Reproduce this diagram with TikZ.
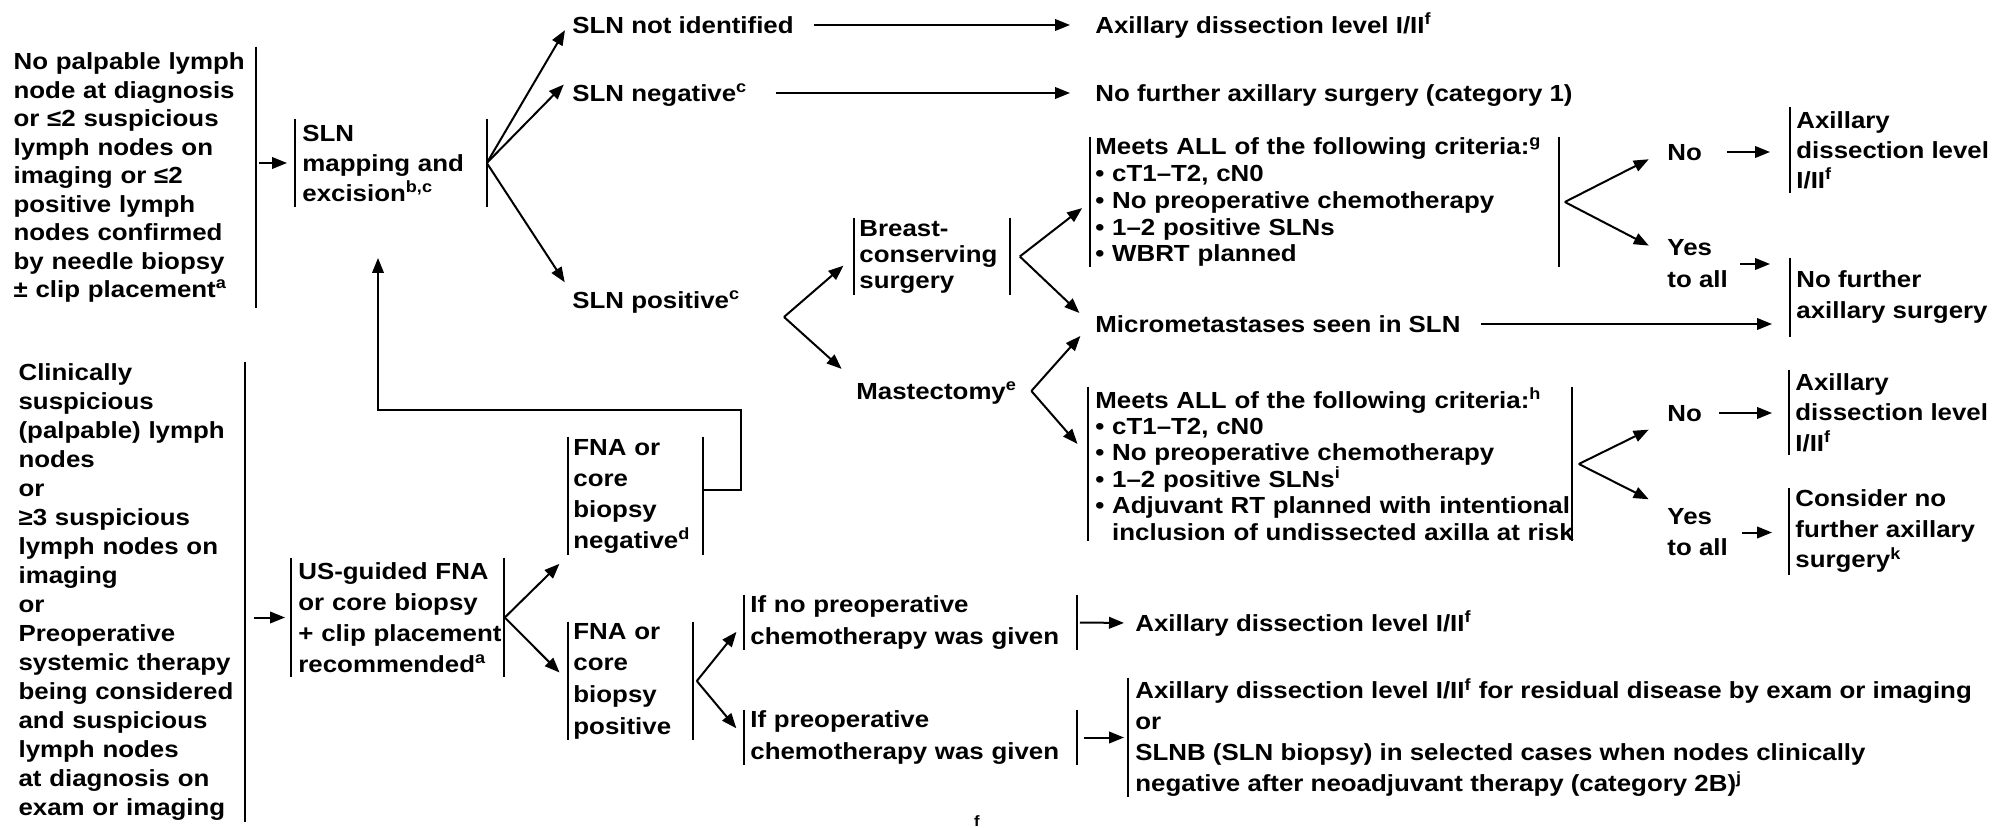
\documentclass[tikz,border=0pt]{standalone}
\usepackage{fontspec}
\setmainfont{Liberation Sans}[FakeStretch=1.11]
\usetikzlibrary{arrows.meta}
\usetikzlibrary{calc}

\tikzset{
  lh/.style={font=\bfseries\fontsize{11.65pt}{#1}\selectfont},
  blk/.style={align=left, anchor=west, inner ysep=0pt},
  lbl/.style={anchor=west, inner xsep=2pt, inner ysep=2pt, text height=8.34pt, text depth=0pt, lh=14pt},
  bar/.style={line width=1pt},
  conn/.style={draw, line width=1pt, ->, >={Triangle[length=7.5pt,width=5.8pt]}},
}

\begin{document}
\begin{tikzpicture}[x=0.5pt,y=-0.5pt]

  \useasboundingbox[fill=white] (0,0) rectangle (2001,828);

  % entry blocks
  \node [blk,lh=14.25pt,anchor=east,inner xsep=0pt,text width=121pt,minimum height=130.5pt] (nopalp) at (256,177.5)
    {No palpable lymph\\node at diagnosis\\or ≤2 suspicious\\lymph nodes on\\imaging or ≤2\\positive lymph\\nodes confirmed\\by needle biopsy\\± clip placement\textsuperscript{a}};
  \node [blk,lh=14.5pt,anchor=east,inner xsep=0pt,text width=113pt,minimum height=230pt] (nocl) at (245,592)
    {Clinically\\suspicious\\(palpable) lymph\\nodes\\or\\≥3 suspicious\\lymph nodes on\\imaging\\or\\Preoperative\\systemic therapy\\being considered\\and suspicious\\lymph nodes\\at diagnosis on\\exam or imaging};

  % SLN branch
  \node [blk,lh=15pt,inner xsep=3.5pt,text width=88.5pt,minimum height=44pt] (slnmap) at (295,163)
    {SLN\\mapping and\\excision\textsuperscript{b,c}};
  \node [lbl] (slnni)  at (568,25)  {SLN not identified};
  \node [lbl] (slnneg) at (568,93)  {SLN negative\textsuperscript{c}};
  \node [lbl] (slnpos) at (568,300) {SLN positive\textsuperscript{c}};
  \node [lbl] (axd1)   at (1091,25) {Axillary dissection level I/II\textsuperscript{f}};
  \node [lbl] (nofur1) at (1091,93) {No further axillary surgery (category 1)};
  \coordinate (posfork) at (784,317);

  \node [blk,lh=13pt,inner xsep=2.5pt,text width=72.5pt,minimum height=38.5pt] (bcs) at (854,256.5)
    {Breast-\\conserving\\surgery};
  \node [lbl] (mast)  at (852,391)  {Mastectomy\textsuperscript{e}};
  \node [lbl] (micro) at (1091,324) {Micrometastases seen in SLN};

  \node [blk,lh=13.35pt,inner xsep=2.5pt,text width=229pt,minimum height=65pt] (meetsg) at (1090,202)
    {Meets ALL of the following criteria:\textsuperscript{g}\\• cT1–T2, cN0\\• No preoperative chemotherapy\\• 1–2 positive SLNs\\• WBRT planned};
  \node [blk,lh=13.2pt,inner xsep=3.5pt,text width=234.5pt,minimum height=77pt] (meetsh) at (1088,464)
    {Meets ALL of the following criteria:\textsuperscript{h}\\• cT1–T2, cN0\\• No preoperative chemotherapy\\• 1–2 positive SLNs\textsuperscript{i}\\\mbox{• Adjuvant RT planned with intentional}\\\mbox{\phantom{• }inclusion of undissected axilla at risk}};

  \node [lbl] (no1) at (1663,152) {No};
  \node [blk,lh=16pt,inner xsep=2pt] (yes1) at (1663,264) {Yes\\to all};
  \node [lbl] (no2) at (1663,413) {No};
  \node [blk,lh=15.5pt,inner xsep=2pt] (yes2) at (1663,532.5) {Yes\\to all};

  \node [blk,lh=15pt,inner xsep=3pt,minimum height=43pt] (axd2) at (1790,150)
    {Axillary\\dissection level\\I/II\textsuperscript{f}};
  \node [blk,lh=15.5pt,inner xsep=3pt,minimum height=39.5pt] (nofur2) at (1790,297.5)
    {No further\\axillary surgery};
  \node [blk,lh=15.25pt,inner xsep=3pt,minimum height=42.5pt] (axd4) at (1789,412.5)
    {Axillary\\dissection level\\I/II\textsuperscript{f}};
  \node [blk,lh=15.25pt,inner xsep=3pt,minimum height=43.5pt] (consider) at (1789,531.5)
    {Consider no\\further axillary\\surgery\textsuperscript{k}};

  % biopsy branch
  \node [blk,lh=15.4pt,inner xsep=3.5pt,text width=99pt,minimum height=59.5pt] (usg) at (291,617.5)
    {US-guided FNA\\or core biopsy\\\mbox{+ clip placement}\\recommended\textsuperscript{a}};
  \node [blk,lh=15.5pt,inner xsep=2.5pt,text width=62pt,minimum height=59pt] (fnaneg) at (568,496)
    {FNA or\\core\\biopsy\\negative\textsuperscript{d}};
  \node [blk,lh=15.8pt,inner xsep=2.5pt,text width=57pt,minimum height=59pt] (fnapos) at (568,681)
    {FNA or\\core\\biopsy\\positive};
  \node [blk,lh=16pt,inner xsep=3pt,text width=160pt,minimum height=27.5pt] (ifno) at (744,622.5)
    {If no preoperative\\chemotherapy was given};
  \node [blk,lh=16pt,inner xsep=3pt,text width=160pt,minimum height=27.5pt] (ifpre) at (744,737.5)
    {If preoperative\\chemotherapy was given};
  \node [lbl] (axd3) at (1131,623) {Axillary dissection level I/II\textsuperscript{f}};
  \node [blk,lh=15.5pt,inner xsep=3.5pt,minimum height=59.5pt] (resid) at (1128,737.5)
    {Axillary dissection level I/II\textsuperscript{f} for residual disease by exam or imaging\\or\\SLNB (SLN biopsy) in selected cases when nodes clinically\\negative after neoadjuvant therapy (category 2B)\textsuperscript{j}};
  \node [anchor=north,inner sep=0pt,font=\bfseries\fontsize{7.5pt}{9pt}\selectfont] (strayf) at (977,815) {f};

  \coordinate (loopcorner) at (378,410);
  \coordinate (loopend) at (378,258);

  % bars
  \path [draw,bar]
    (nopalp.north east) -- (nopalp.south east)
    (nocl.north east)   -- (nocl.south east)
    (slnmap.north west) -- (slnmap.south west) (slnmap.north east) -- (slnmap.south east)
    (bcs.north west)    -- (bcs.south west)    (bcs.north east)    -- (bcs.south east)
    (meetsg.north west) -- (meetsg.south west) (meetsg.north east) -- (meetsg.south east)
    (meetsh.north west) -- (meetsh.south west) (meetsh.north east) -- (meetsh.south east)
    (usg.north west)    -- (usg.south west)    (usg.north east)    -- (usg.south east)
    (fnaneg.north west) -- (fnaneg.south west) (fnaneg.north east) -- (fnaneg.south east)
    (fnapos.north west) -- (fnapos.south west) (fnapos.north east) -- (fnapos.south east)
    (ifno.north west)   -- (ifno.south west)   (ifno.north east)   -- (ifno.south east)
    (ifpre.north west)  -- (ifpre.south west)  (ifpre.north east)  -- (ifpre.south east)
    (resid.north west)  -- (resid.south west)
    (axd2.north west)   -- (axd2.south west)
    (nofur2.north west) -- (nofur2.south west)
    (axd4.north west)   -- (axd4.south west)
    (consider.north west) -- (consider.south west);

  % connectors
  \path [every edge/.style={conn}]
    (nopalp.east |- slnmap.west) edge [shorten <=1.5pt,shorten >=4pt] (slnmap.west)
    (nocl.east |- usg.west)      edge [shorten <=4.5pt,shorten >=3pt] (usg.west)
    (slnmap.east) edge [shorten >=3pt] (slnni.west)
    (slnmap.east) edge [shorten >=3pt] (slnneg.north west)
    (slnmap.east) edge [shorten >=3pt] (slnpos.north west)
    (slnni.east)  edge [shorten <=8pt,shorten >=10.5pt] (axd1.west)
    (slnneg.east) edge [shorten <=12pt,shorten >=10.5pt] (nofur1.west)
    (posfork) edge [shorten >=7pt] (bcs.west)
    (posfork) edge [shorten >=7pt] (mast.north west)
    ([xshift=5pt]bcs.east)  edge [shorten >=5pt] (meetsg.west)
    ([xshift=5pt]bcs.east)  edge [shorten >=8pt] (micro.west)
    ([xshift=5pt]mast.east) edge [shorten >=8pt] (micro.west)
    ([xshift=5pt]mast.east) edge [shorten >=8pt] ([yshift=4pt]meetsh.west)
    (micro.east) edge [shorten <=8pt,shorten >=9pt] (micro.east -| nofur2.west)
    ([xshift=3pt]meetsg.east) edge [shorten >=8pt] (no1.west)
    ([xshift=3pt]meetsg.east) edge [shorten >=8pt] ([yshift=5.5pt]yes1.west)
    ([xshift=3.5pt]meetsh.east) edge [shorten >=8pt] ([yshift=-4.8pt]no2.west)
    ([xshift=3.5pt]meetsh.east) edge [shorten >=8pt] ([yshift=13pt]yes2.west)
    (no1.east)  edge [shorten <=10.5pt,shorten >=10pt] (no1.east -| axd2.west)
    (yes1.east) edge [shorten <=4pt,shorten >=10pt]    (yes1.east -| nofur2.west)
    (no2.east)  edge [shorten <=6.5pt,shorten >=8.5pt] (no2.east -| axd4.west)
    (yes2.east) edge [shorten <=5pt,shorten >=8.5pt]   (yes2.east -| consider.west)
    ([xshift=0.5pt]usg.east) edge [shorten >=6pt] (fnaneg.south west)
    ([xshift=0.5pt]usg.east) edge [shorten >=6pt] (fnapos.west)
    ([xshift=2pt]fnapos.east) edge [shorten >=6pt] (ifno.west)
    ([xshift=2pt]fnapos.east) edge [shorten >=6pt] (ifpre.west)
    (ifno.east)  edge [shorten <=1.5pt,shorten >=3.5pt] (axd3.west)
    (ifpre.east) edge [shorten <=3.5pt,shorten >=2pt]   (ifpre.east -| resid.west);

  % negative biopsy goes back to SLN mapping
  \draw [conn] ([yshift=3pt]fnaneg.east) -- ++(38,0) |- (loopcorner) -- (loopend);

\end{tikzpicture}
\end{document}
